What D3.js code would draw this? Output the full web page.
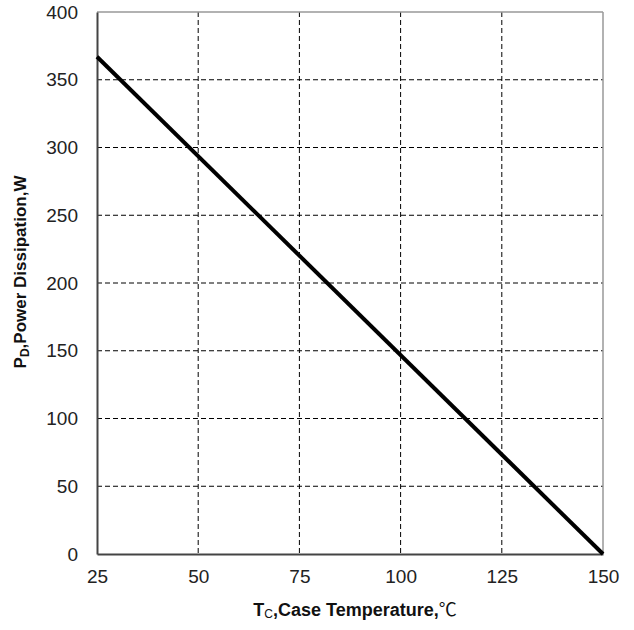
<!DOCTYPE html>
<html>
<head>
<meta charset="utf-8">
<script src="https://cdn.jsdelivr.net/npm/d3@7"></script>
<style>
  body { margin: 0; background: #fff; }
  svg { font-family: "Liberation Sans", Arial, sans-serif; }
</style>
</head>
<body>
<svg id="chart" width="634" height="630"></svg>
<script>
// derating curve: case temperature vs max power dissipation
const temps = [25, 150]
const power = [367, 0]
const xTicks = [25, 50, 75, 100, 125, 150]
const yTicks = [0, 50, 100, 150, 200, 250, 300, 350, 400]

const margin = { top: 12, right: 31, bottom: 76, left: 97 }
const width = 634 - margin.left - margin.right
const height = 630 - margin.top - margin.bottom

const svg = d3.select('#chart')
const g = svg.append('g').attr('transform', `translate(${margin.left},${margin.top})`)

const x = d3.scaleLinear().domain([25, 150]).range([0, width])
const y = d3.scaleLinear().domain([0, 400]).range([height, 0])

// grid
g.selectAll('.vgrid')
  .data(xTicks.slice(1, -1))
  .enter().append('line')
  .attr('x1', d => x(d)).attr('x2', d => x(d))
  .attr('y1', 0).attr('y2', height)
  .attr('stroke', '#000').attr('stroke-width', 1)
  .attr('stroke-dasharray', '5,3')

g.selectAll('.hgrid')
  .data(yTicks.slice(1, -1))
  .enter().append('line')
  .attr('x1', 0).attr('x2', width)
  .attr('y1', d => y(d)).attr('y2', d => y(d))
  .attr('stroke', '#000').attr('stroke-width', 1)
  .attr('stroke-dasharray', '5,3')

// frame: top/right lighter
g.append('line').attr('x1', 0).attr('x2', width).attr('y1', 0).attr('y2', 0)
  .attr('stroke', '#999').attr('stroke-width', 1.5)
g.append('line').attr('x1', width).attr('x2', width).attr('y1', 0).attr('y2', height)
  .attr('stroke', '#999').attr('stroke-width', 1.5)

// axes
const xAxis = g.append('g')
  .attr('transform', `translate(0,${height})`)
  .call(d3.axisBottom(x).tickValues(xTicks).tickSize(0).tickPadding(16))
const yAxis = g.append('g')
  .call(d3.axisLeft(y).tickValues(yTicks).tickSize(0).tickPadding(19))

for (const ax of [xAxis, yAxis]) {
  ax.select('.domain').attr('stroke', '#444').attr('stroke-width', 2)
  ax.selectAll('text').attr('font-size', 19).attr('fill', '#222')
    .attr('font-family', '"Liberation Sans", Arial, sans-serif')
}

// the curve
const line = d3.line().x((d, i) => x(temps[i])).y(d => y(d))
g.append('path')
  .datum(power)
  .attr('d', line)
  .attr('fill', 'none')
  .attr('stroke', '#000')
  .attr('stroke-width', 4)

// axis labels
const xl = svg.append('text')
  .attr('x', margin.left + width / 2 + 5)
  .attr('y', 616)
  .attr('text-anchor', 'middle')
  .attr('font-size', 18).attr('font-weight', 'bold').attr('fill', '#111')
xl.append('tspan').text('T')
xl.append('tspan').text('C').attr('font-size', 12).attr('font-weight', 'normal').attr('dy', 2)
xl.append('tspan').text(',Case Temperature,').attr('dy', -2)
xl.append('tspan').text('℃').attr('font-family', '"Noto Sans CJK SC", sans-serif').attr('font-weight', 'normal')

const yl = svg.append('text')
  .attr('transform', `translate(26,272) rotate(-90)`)
  .attr('text-anchor', 'middle')
  .attr('font-size', 17).attr('font-weight', 'bold').attr('fill', '#111')
yl.append('tspan').text('P')
yl.append('tspan').text('D').attr('font-size', 12).attr('dy', 3)
yl.append('tspan').text(',Power Dissipation,W').attr('dy', -3)
</script>
</body>
</html>
